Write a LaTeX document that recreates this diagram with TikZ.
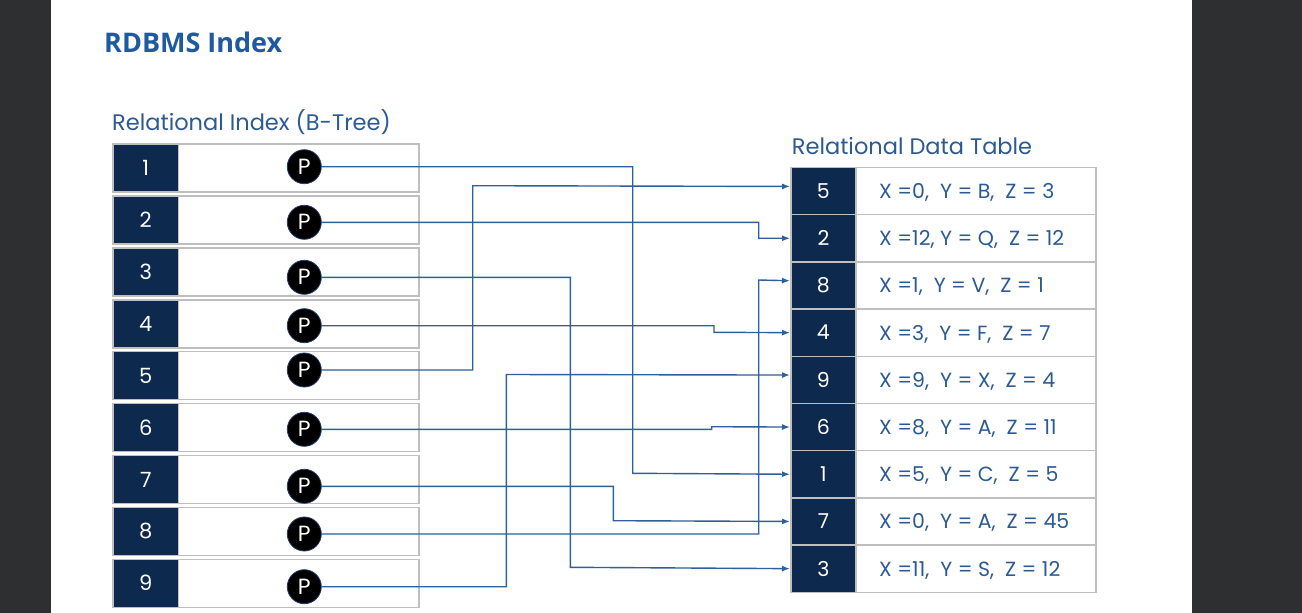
\documentclass[tikz,border=0pt]{standalone}
\usepackage{fontspec}
\setmainfont{Poppins}
\newfontfamily\titlefont{Open Sans}
\usetikzlibrary{arrows.meta}
\definecolor{navy}{HTML}{0D2A4E}
\definecolor{cline}{HTML}{2F5F9C}
\definecolor{txtblue}{HTML}{2B5A94}
\definecolor{ttlblue}{HTML}{1F5AA0}
\definecolor{bgdark}{HTML}{2E2F31}
\definecolor{gborder}{HTML}{BFBFBF}
\begin{document}
\begin{tikzpicture}[x=1pt,y=-1pt,
  idxbox/.style={draw=gborder,line width=1.5pt,fill=white,minimum width=306pt,minimum height=48pt,anchor=north west,inner sep=0pt},
  idxcell/.style={fill=navy,draw=gborder,line width=1.5pt,minimum width=65.4pt,minimum height=48pt,anchor=north west,inner sep=0pt,text=white,font=\fontsize{21}{21}\selectfont},
  pcirc/.style={circle,fill=black,draw={rgb,255:red,30;green,60;blue,110},line width=0.8pt,minimum size=34pt,inner sep=0pt,text=white,font=\fontsize{22}{22}\selectfont},
  tcell/.style={fill=navy,draw=gborder,line width=1.5pt,minimum width=65.3pt,minimum height=47.2pt,anchor=north west,inner sep=0pt,text=white,font=\fontsize{20.5}{20.5}\selectfont},
  dcell/.style={fill=white,draw=gborder,line width=1.5pt,minimum width=240pt,minimum height=47.2pt,anchor=north west,inner sep=0pt},
  dtext/.style={anchor=base west,inner sep=0pt,text=txtblue,font=\fontsize{20.5}{20.5}\selectfont},
  heading/.style={anchor=base west,inner sep=0pt,text=txtblue,font=\fontsize{22.5}{22.5}\selectfont},
  conn/.style={draw=cline,line width=1.4pt,-{Latex[length=8pt,width=6pt]}}
]
\useasboundingbox (0,0) rectangle (1302,613);
\fill[bgdark] (0,0) rectangle (1302,613);
\fill[white] (51,0) rectangle (1192,613);

\node[anchor=base west,inner sep=0pt,text=ttlblue,font=\titlefont\bfseries\fontsize{27}{27}\selectfont] (title) at (104,52) {RDBMS Index};
\node[heading] (lhead) at (112,130.7) {Relational Index (B-Tree)};
\node[heading] (rhead) at (791.7,154.3) {Relational Data Table};

% index
\foreach \k/\ly in {1/166.7,2/222.3,3/277.3,4/325.7,5/370,6/429.3,7/486.3,8/534,9/586.7}{
  \pgfmathsetmacro\tp{143.3+51.9*(\k-1)}
  \node[idxbox] (B\k) at (112.3,\tp) {};
  \node[idxcell] (N\k) at (112.3,\tp) {\k};
  \node[pcirc] (P\k) at (304.3,\ly) {P};
}

% table
\foreach \k/\v/\txt in {1/5/{X =0,\ \ Y = B,\ \ Z = 3},2/2/{X =12, Y = Q,\ \ Z = 12},3/8/{X =1,\ \ Y = V,\ \ Z = 1},4/4/{X =3,\ \ Y = F,\ \ Z = 7},5/9/{X =9,\ \ Y = X,\ \ Z = 4},6/6/{X =8,\ \ Y = A,\ \ Z = 11},7/1/{X =5,\ \ Y = C,\ \ Z = 5},8/7/{X =0,\ \ Y = A,\ \ Z = 45},9/3/{X =11,\ \ Y = S,\ \ Z = 12}}{
  \pgfmathsetmacro\tp{166.7+47.2*(\k-1)}
  \node[dcell] (D\k) at (855.3,\tp) {};
  \node[tcell] (T\k) at (790,\tp) {\v};
  \node[dtext] (X\k) at ([xshift=23.7pt,yshift=-7.5pt]D\k.west) {\txt};
}

% connectors
\draw[conn] (P1.east) -| (632.7,473.3) -- (T7.west);
\draw[conn] (P2.east) -| (758.7,238.3) -- (T2.west);
\draw[conn] (P3.east) -| (570.3,567.3) -- (T9.west);
\draw[conn] (P4.east) -| (714,332.3) -- (T4.west);
\draw[conn] (P5.east) -| (472.7,185.7) -- ([yshift=4.6pt]T1.west);
\draw[conn] (P6.east) -| (711.7,426.7) -- (T6.west);
\draw[conn] (P7.east) -| (613.3,520.7) -- (T8.west);
\draw[conn] (P8.east) -| (758.7,280) -- ([yshift=4.7pt]T3.west);
\draw[conn] (P9.east) -| (506.3,374.5) -- ([yshift=4.8pt]T5.west);
\end{tikzpicture}
\end{document}
